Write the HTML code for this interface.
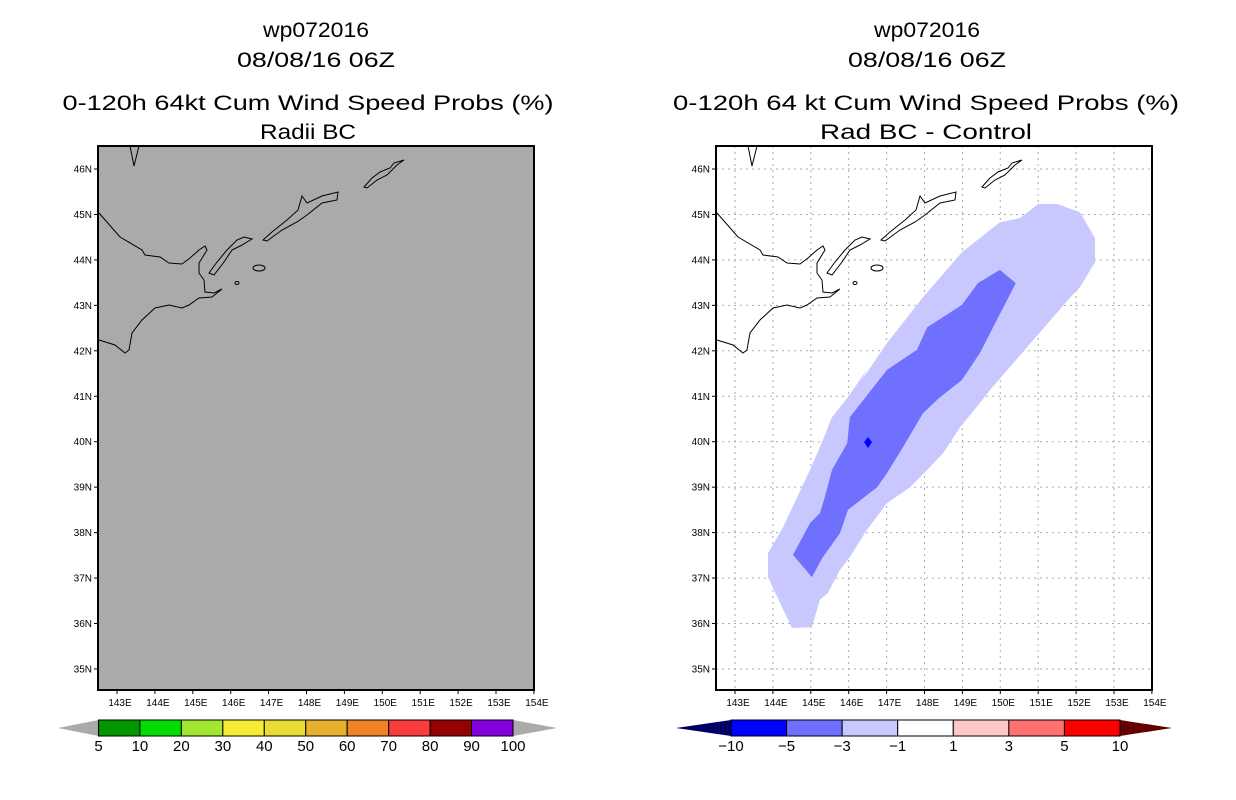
<!DOCTYPE html>
<html><head><meta charset="utf-8"><style>
html,body{margin:0;padding:0;background:#fff;}
svg{display:block;font-family:"Liberation Sans",sans-serif;}
</style></head><body>
<svg id="svg" width="1236" height="800" viewBox="0 0 1236 800" xmlns="http://www.w3.org/2000/svg">
<rect width="1236" height="800" fill="#fff"/>
<g font-family="Liberation Sans, sans-serif" font-size="21" text-anchor="middle" fill="#000">
<text x="316" y="37" textLength="106" lengthAdjust="spacingAndGlyphs">wp072016</text>
<text x="316" y="67" textLength="158" lengthAdjust="spacingAndGlyphs">08/08/16 06Z</text>
<text x="308" y="110" textLength="491" lengthAdjust="spacingAndGlyphs">0-120h 64kt Cum Wind Speed Probs (%)</text>
<text x="308" y="139" textLength="96" lengthAdjust="spacingAndGlyphs">Radii BC</text>
<text x="927" y="37" textLength="106" lengthAdjust="spacingAndGlyphs">wp072016</text>
<text x="927" y="67" textLength="158" lengthAdjust="spacingAndGlyphs">08/08/16 06Z</text>
<text x="926" y="110" textLength="506" lengthAdjust="spacingAndGlyphs">0-120h 64 kt Cum Wind Speed Probs (%)</text>
<text x="926" y="139" textLength="212" lengthAdjust="spacingAndGlyphs">Rad BC - Control</text>
</g>
<g id="left"></g>
<g id="right"></g>
</svg>
<script>
// Axis data
const lonTicks = [143,144,145,146,147,148,149,150,151,152,153,154];
const latTicks = [46,45,44,43,42,41,40,39,38,37,36,35];
// Difference contours (lon, lat)
const lightLon = [146.48,145.98,145.56,145.24,144.98,144.64,144.27,143.87,143.87,144.19,144.50,145.03,145.24,145.45,145.77,146.03,146.48,147.01,147.62,148.07,148.49,148.94,149.46,149.73,151.79,152.10,152.50,152.50,152.10,151.50,151.00,150.52,149.99,148.99,147.96,147.01,146.35];
const lightLat = [41.58,40.98,40.54,39.88,39.38,38.78,38.12,37.55,37.02,36.45,35.90,35.92,36.52,36.67,37.18,37.46,38.06,38.65,39.00,39.38,39.75,40.32,40.85,41.14,43.12,43.40,43.95,44.48,45.05,45.23,45.23,44.92,44.83,44.17,43.18,42.17,41.36];
const darkLon = [149.99,150.41,149.46,148.99,148.41,147.96,147.43,147.01,146.75,145.98,145.77,145.30,145.03,144.53,144.98,145.24,145.37,145.56,145.96,146.03,147.01,147.80,148.07,148.99,149.41];
const darkLat = [43.78,43.49,41.95,41.36,40.98,40.63,39.88,39.31,39.00,38.50,37.99,37.44,37.02,37.51,38.21,38.43,38.78,39.38,39.97,40.54,41.58,42.02,42.52,43.01,43.49];
const peakLon = [146.51];
const peakLat = [39.99];
// Colorbars
const probLevels = ['5','10','20','30','40','50','60','70','80','90','100'];
const probColors = ['#009600','#00dc00','#a0e632','#f5eb32','#e6dc32','#e6af2d','#f08228','#fa3c3c','#960000','#8200dc'];
const diffLevels = ['-10','-5','-3','-1','1','3','5','10'];
const diffColors = ['#0000ff','#7070ff','#c8c8ff','#ffffff','#ffc8c8','#ff7070','#ff0000'];

const NS='http://www.w3.org/2000/svg';
function mk(parent, tag, attrs){const e=document.createElementNS(NS,tag);for(const k in attrs)e.setAttribute(k,attrs[k]);parent.appendChild(e);return e;}
const PW=436, PH=544, PY=146;
function xs(ox,lon){return ox+19+(lon-143)*37.9;}
function ys(lat){return 169+(46-lat)*45.45;}

const coast = [[1,67],[22,91],[44,104],[47,109],[62,111],[71,117],[84,118],[92,112],[101,104],[107,100],[109,104],[101,117],[101,127],[106,134],[107,146],[116,147],[124,143],[114,151],[101,152],[91,159],[84,162],[71,159],[57,162],[44,174],[34,187],[31,204],[27,207],[17,199],[1,194]];
const islands = [
 [[111,127],[119,116],[129,104],[139,94],[146,91],[154,93],[144,99],[134,104],[126,116],[116,129]],
 [[165,94],[174,86],[189,74],[200,64],[204,50],[209,57],[224,50],[240,46],[239,54],[224,57],[209,69],[199,76],[184,84],[169,95]],
 [[266,41],[274,32],[282,26],[292,22],[296,17],[306,14],[299,19],[289,29],[279,34],[269,42]]
];
function drawPanel(g, ox, gray){
  const side = gray ? 'left' : 'right';
  const bg = mk(g,'rect',{x:ox,y:PY,width:PW,height:PH,fill:gray?'#aaaaaa':'#fff'});
  
  
  if(!gray){
    lonTicks.forEach(l=>{const x=xs(ox,l); if(x<ox+PW-2){const ln=mk(g,'line',{x1:x,y1:PY,x2:x,y2:PY+PH,stroke:'#aaa','stroke-dasharray':'2,4'});
      
      }});
    latTicks.forEach(l=>{const y=ys(l);const ln=mk(g,'line',{x1:ox,y1:y,x2:ox+PW,y2:y,stroke:'#aaa','stroke-dasharray':'2,4'});
      
      });
    const pl=(lo,la)=>lo.map((v,i)=>xs(ox,v).toFixed(1)+','+ys(la[i]).toFixed(1)).join(' ');
    const l1=mk(g,'polygon',{points:pl(lightLon,lightLat),fill:'#c8c8ff'});
    
    
    const l2=mk(g,'polygon',{points:pl(darkLon,darkLat),fill:'#7070ff'});
    
    
    peakLon.forEach((v,i)=>{const cx=xs(ox,v),cy=ys(peakLat[i]);
      const d=mk(g,'polygon',{points:`${cx},${cy-5} ${cx+4},${cy} ${cx},${cy+6} ${cx-4},${cy}`,fill:'#0000ff'});
      
      });
  }
  const cg=mk(g,'g',{transform:`translate(${ox},${PY})`,fill:'none',stroke:'#000','stroke-width':1});
  
  
  mk(cg,'polyline',{points:coast.map(p=>p.join(',')).join(' ')});
  islands.forEach(is=>mk(cg,'polygon',{points:is.map(p=>p.join(',')).join(' ')}));
  mk(cg,'ellipse',{cx:161,cy:122,rx:6,ry:3});
  mk(cg,'ellipse',{cx:139,cy:137,rx:2,ry:1.5});
  mk(cg,'polyline',{points:'32,0 36,20 41,0'});
  const fr=mk(g,'rect',{x:ox,y:PY,width:PW,height:PH,fill:'none',stroke:'#000','stroke-width':2});
  
  
  latTicks.forEach(l=>{const y=ys(l);mk(g,'line',{x1:ox-4,y1:y,x2:ox,y2:y,stroke:'#000'});
    const t=mk(g,'text',{x:ox-6,y:y+3.5,'font-size':10,'text-anchor':'end'});t.textContent=l+'N';
    
    });
  lonTicks.forEach(l=>{const x=xs(ox,l);mk(g,'line',{x1:x,y1:PY+PH,x2:x,y2:PY+PH+4,stroke:'#000'});
    const t=mk(g,'text',{x:x+3,y:PY+PH+16,'font-size':10,'text-anchor':'middle'});t.textContent=l+'E';
    
    });
}
function drawBar(g, x0, x1, tipL, tipR, cols, labels, lc, rc, name){
  const y0=720,y1=736,n=cols.length,w=(x1-x0)/n;
  const a=mk(g,'polygon',{points:`${x0},${y0} ${tipL},${(y0+y1)/2} ${x0},${y1}`,fill:lc});
  
  
  const b=mk(g,'polygon',{points:`${x1},${y0} ${tipR},${(y0+y1)/2} ${x1},${y1}`,fill:rc});
  
  
  cols.forEach((c,i)=>{const r=mk(g,'rect',{x:x0+i*w,y:y0,width:w,height:y1-y0,fill:c,stroke:'#000','stroke-width':1});
    
    });
  labels.forEach((s,i)=>{const t=mk(g,'text',{x:x0+i*w,y:y1+15,'font-size':15,'text-anchor':'middle'});
    t.textContent=s.replace('-','\u2212');
    
    });
}
const L=document.getElementById('left'), R=document.getElementById('right');
drawPanel(L,98,true);
drawPanel(R,716,false);
drawBar(L,98.5,513,58,557,probColors,probLevels,'#aaaaaa','#aaaaaa','prob-colorbar');
drawBar(R,731,1120,676,1172,diffColors,diffLevels,'#000064','#640000','diff-colorbar');
</script>
</body></html>
